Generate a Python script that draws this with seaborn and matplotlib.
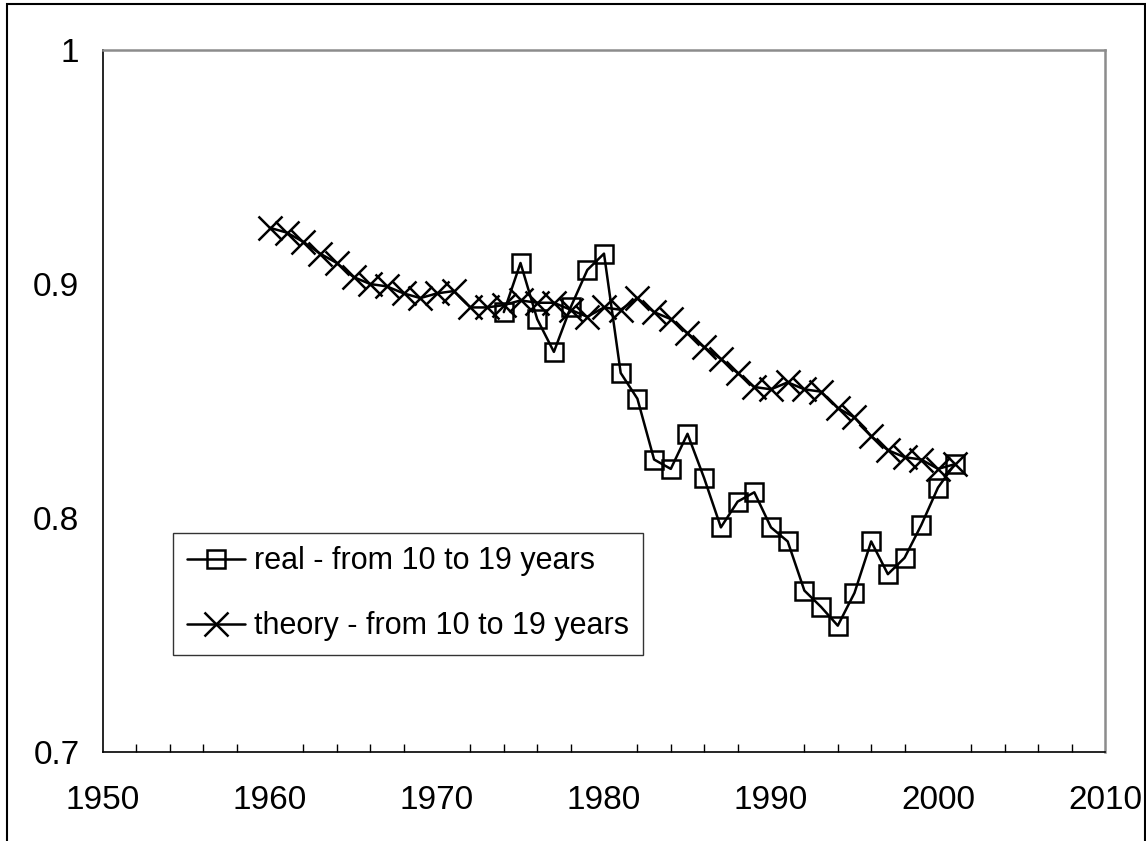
import matplotlib
matplotlib.use("Agg")
import matplotlib.pyplot as plt
import matplotlib.patches as mpatches
from matplotlib.ticker import MultipleLocator
import seaborn as sns

# real data, 10-19 years
real_years = list(range(1974, 2002))
real_vals = [0.888, 0.909, 0.885, 0.871, 0.890, 0.906, 0.913, 0.862, 0.851, 0.825,
             0.821, 0.836, 0.817, 0.796, 0.807, 0.811, 0.796, 0.790, 0.769, 0.762,
             0.754, 0.768, 0.790, 0.776, 0.783, 0.797, 0.813, 0.823]

# theory, 10-19 years
theory_years = list(range(1960, 2002))
theory_vals = [0.924, 0.922, 0.918, 0.913, 0.909, 0.903, 0.900, 0.899, 0.896, 0.894,
               0.896, 0.897, 0.890, 0.890, 0.891, 0.893, 0.892, 0.892, 0.889, 0.886,
               0.890, 0.889, 0.894, 0.888, 0.885, 0.879, 0.873, 0.868, 0.862, 0.856,
               0.855, 0.858, 0.855, 0.854, 0.847, 0.843, 0.835, 0.829, 0.826, 0.825,
               0.821, 0.823]

x_ticks = [1950, 1960, 1970, 1980, 1990, 2000, 2010]
y_ticks = [0.7, 0.8, 0.9, 1.0]
y_labels = ["0.7", "0.8", "0.9", "1"]

sns.set_theme(style="white")
plt.rcParams["font.family"] = ["Liberation Sans", "DejaVu Sans"]
plt.rcParams["text.color"] = "black"

fig = plt.figure(figsize=(11.46, 8.41), dpi=100)
ax = fig.add_axes([0.0899, 0.1058, 0.8743, 0.8347])

sns.lineplot(x=real_years, y=real_vals, ax=ax, color="black", lw=1.8,
             marker="s", markersize=13, markerfacecolor="none",
             markeredgecolor="black", markeredgewidth=1.8,
             label="real - from 10 to 19 years")
sns.lineplot(x=theory_years, y=theory_vals, ax=ax, color="black", lw=1.8,
             marker="x", markersize=17, markeredgecolor="black",
             markeredgewidth=1.8,
             label="theory - from 10 to 19 years")

ax.set_xlim(1950, 2010)
ax.set_ylim(0.7, 1.0)
ax.set_xticks(x_ticks)
ax.set_xticklabels([str(v) for v in x_ticks])
ax.set_yticks(y_ticks)
ax.set_yticklabels(y_labels)
ax.xaxis.set_minor_locator(MultipleLocator(2))
ax.tick_params(axis="both", which="major", direction="out", length=7, width=1,
               color="black", labelsize=24, labelcolor="black")
ax.tick_params(axis="x", which="major", pad=17)
ax.tick_params(axis="y", which="major", pad=10)
ax.tick_params(axis="x", which="minor", direction="in", length=6, width=1,
               color="black", bottom=True)
ax.set_xlabel("")
ax.set_ylabel("")

for side in ["left", "bottom"]:
    ax.spines[side].set_color("black")
    ax.spines[side].set_linewidth(1.2)
for side in ["top", "right"]:
    ax.spines[side].set_color("#8c8c8c")
    ax.spines[side].set_linewidth(1.8)
    ax.spines[side].set_visible(True)

leg = ax.legend(loc="lower left", bbox_to_anchor=(0.0699, 0.138),
                borderaxespad=0, fontsize=22, frameon=True, fancybox=False,
                handlelength=1.9, handletextpad=0.3, labelspacing=1.15,
                borderpad=0.45)
leg.get_frame().set_edgecolor("black")
leg.get_frame().set_linewidth(1.0)
for t in leg.get_texts():
    t.set_color("black")

# outer chart border
fig.patches.append(mpatches.Rectangle((7 / 1146, -0.05), 1138 / 1146, 1.05 - 4 / 841,
                                      transform=fig.transFigure, fill=False,
                                      edgecolor="black", linewidth=1.5))

fig.savefig("out.png", dpi=100)
